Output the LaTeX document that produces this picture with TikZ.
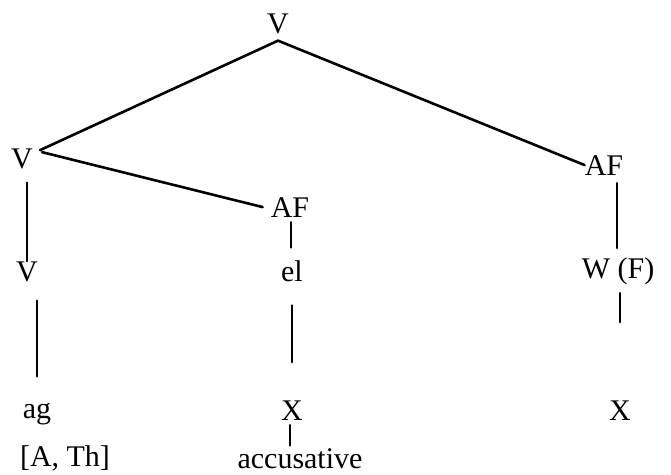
\documentclass[tikz,border=0pt]{standalone}
\usepackage{fontspec}
\setmainfont{Liberation Serif}
\usepackage{tikz}
\usetikzlibrary{positioning,calc}
\tikzset{
  every node/.style={font=\fontsize{30}{36}\selectfont,text=black},
  lbl/.style={inner sep=0pt,anchor=base},
  branch/.style={line width=2.6pt,draw=black,line cap=round}
}
\begin{document}
\begin{tikzpicture}[x=1pt,y=-1pt]
  \useasboundingbox (0,0) rectangle (671,474);
  \node[lbl] (root) at (278,33) {V};
  \node[lbl] (vLeft) at (22,168) {V};
  \node[lbl] (afMid) at (290,217) {AF};
  \node[lbl] (afRight) at (604,175) {AF};
  \node[lbl] (vLow) at (27,281) {V};
  \node[lbl] (el) at (292,281) {el};
  \node[lbl] (wf) at (618,278) {W (F)};
  \node[lbl] (ag) at (37,418) {ag};
  \node[lbl] (xMid) at (292,420) {X};
  \node[lbl] (xRight) at (620,420) {X};
  \node[lbl] (theta) at (65,466) {[A, Th]};
  \node[lbl] (acc) at (300,468) {accusative};

  \draw[branch] ([yshift=-7pt]root.south) -- ([xshift=7pt,yshift=-2pt]vLeft.north east);
  \draw[branch] ([yshift=-7pt]root.south) -- (afRight.west);
  \draw[branch] ([xshift=9pt,yshift=-4pt]vLeft.north east) -- ([xshift=-8pt]afMid.west);
  \draw[branch] ([xshift=5pt,yshift=-14pt]vLeft.south) -- (vLow.north);
  \draw[branch] ([xshift=10pt,yshift=-19pt]vLow.south) -- ([yshift=26pt]ag.north);
  \draw[branch] ([xshift=1pt,yshift=-5pt]afMid.south) -- ([xshift=-1pt,yshift=12.5pt]el.north);
  \draw[branch] ([yshift=-24pt]el.south) -- ([yshift=38pt]xMid.north);
  \draw[branch] ([xshift=-2pt,yshift=-5pt]xMid.south) -- ([xshift=-2pt,yshift=2.5pt]xMid.south |- acc.north);
  \draw[branch] ([xshift=13pt,yshift=-8pt]afRight.south) -- ([xshift=-1pt,yshift=9pt]wf.north);
  \draw[branch] ([xshift=2pt,yshift=-8.5pt]wf.south) -- ([yshift=78pt]xRight.north);
\end{tikzpicture}
\end{document}
